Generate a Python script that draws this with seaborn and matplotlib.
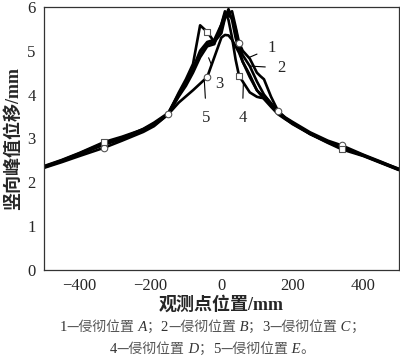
import numpy as np
import pandas as pd
import seaborn as sns
import matplotlib
matplotlib.use("Agg")
import matplotlib.pyplot as plt
from matplotlib.offsetbox import TextArea, HPacker, AnchoredOffsetbox

# observation points (mm) shared by all five curves
x_pos = [-500, -450, -400, -330, -280, -220, -190, -150, -120, -100, -80, -60, -40, -20, 0, 10, 20,
         30, 40, 50, 60, 80, 100, 110, 120, 140, 160, 180, 200, 250, 300, 340, 400, 450, 500]

# vertical peak displacement (mm)
disp_1 = [2.36, 2.50, 2.66, 2.90, 3.02, 3.20, 3.33, 3.57, 3.98, 4.25, 4.55, 4.95, 5.15, 5.20, 5.50, 5.75, 5.85,
          5.90, 5.55, 5.18, 5.00, 4.82, 4.50, 4.42, 4.35, 3.95, 3.62, 3.48, 3.38, 3.14, 2.95, 2.84, 2.63, 2.47, 2.30]
disp_2 = [2.34, 2.49, 2.65, 2.88, 3.00, 3.22, 3.36, 3.58, 4.02, 4.30, 4.60, 5.00, 5.20, 5.25, 5.60, 5.85, 5.80,
          5.75, 5.50, 5.10, 4.90, 4.65, 4.30, 4.15, 4.00, 3.80, 3.60, 3.47, 3.36, 3.10, 2.92, 2.80, 2.62, 2.45, 2.29]
disp_3 = [2.37, 2.51, 2.67, 2.92, 3.04, 3.21, 3.34, 3.56, 4.05, 4.35, 4.70, 5.58, 5.43, 5.20, 5.40, 5.75, 5.95,
          5.70, 5.30, 5.00, 4.75, 4.45, 4.10, 4.02, 3.98, 3.80, 3.58, 3.46, 3.35, 3.12, 2.93, 2.79, 2.61, 2.46, 2.31]
disp_4 = [2.35, 2.48, 2.64, 2.86, 2.99, 3.19, 3.30, 3.55, 3.96, 4.20, 4.50, 4.85, 5.10, 5.15, 5.60, 5.90, 5.70,
          5.30, 4.80, 4.42, 4.30, 4.05, 3.95, 3.93, 3.92, 3.75, 3.58, 3.45, 3.33, 3.10, 2.90, 2.75, 2.60, 2.44, 2.28]
disp_5 = [2.33, 2.46, 2.60, 2.79, 2.95, 3.15, 3.28, 3.55, 3.82, 3.96, 4.10, 4.25, 4.40, 4.85, 5.30, 5.36, 5.35,
          5.25, 5.10, 4.95, 4.75, 4.40, 4.10, 4.00, 3.90, 3.72, 3.55, 3.44, 3.34, 3.11, 2.91, 2.78, 2.61, 2.45, 2.29]

curves = ["1", "2", "3", "4", "5"]
all_disp = [disp_1, disp_2, disp_3, disp_4, disp_5]

# which points of each curve carry a marker, and its shape
circle_pts = {"1": [50, 160, 340], "5": [-40, -150, -330]}
square_pts = {"3": [-40, -330], "4": [50, 340]}

# leader-line labels: curve -> (point on curve, label position)
label_at = {"1": ((76, 4.84), (143, 5.07)),
            "2": ((81, 4.65), (168, 4.61)),
            "3": ((-36, 4.84), (-6, 4.24)),
            "4": ((62, 4.30), (59, 3.47)),
            "5": ((-48, 4.30), (-42, 3.47))}

caption_1 = [("1", "n"), ("—侵彻位置", "c"), (" A", "i"), ("；", "c"),
             ("2", "n"), ("—侵彻位置", "c"), (" B", "i"), ("；", "c"),
             ("3", "n"), ("—侵彻位置", "c"), (" C", "i"), ("；", "c")]
caption_2 = [("4", "n"), ("—侵彻位置", "c"), (" D", "i"), ("；", "c"),
             ("5", "n"), ("—侵彻位置", "c"), (" E", "i"), ("。", "c")]


def main():
    sns.set_style("white")
    plt.rcParams["font.family"] = ["Liberation Serif", "Noto Sans CJK SC"]

    df = pd.concat([pd.DataFrame({"x": x_pos, "y": d, "curve": c})
                    for c, d in zip(curves, all_disp)], ignore_index=True)

    fig, ax = plt.subplots(figsize=(4.0, 3.62), dpi=100)
    fig.subplots_adjust(left=0.11, right=0.997, top=0.981, bottom=0.254)

    sns.lineplot(data=df, x="x", y="y", hue="curve", palette=["black"] * 5,
                 sort=False, linewidth=1.9, legend=False, ax=ax)

    for pts, mk in ((circle_pts, "o"), (square_pts, "s")):
        for c, xs in pts.items():
            sub = df[(df["curve"] == c) & (df["x"].isin(xs))]
            ax.scatter(sub["x"], sub["y"], marker=mk, s=22, facecolor="white",
                       edgecolor="#555555", linewidth=0.8, zorder=5)

    for c, (xy, xt) in label_at.items():
        ax.annotate(c, xy=xy, xytext=xt, ha="center", va="center", fontsize=12,
                    arrowprops=dict(arrowstyle="-", lw=0.8, color="black",
                                    shrinkA=6, shrinkB=0))

    ax.set_xlim(-500, 500)
    ax.set_ylim(0, 6)
    ax.set_xticks([-400, -200, 0, 200, 400])
    ax.set_yticks(range(0, 7))
    ax.set_xticklabels(["\u2212400", "\u2212200", "0", "200", "400"])
    ax.tick_params(axis="x", direction="in", length=4, width=0.8, labelsize=12, pad=6)
    ax.tick_params(axis="y", direction="out", length=4, width=0.8, labelsize=12, pad=2)
    for s in ax.spines.values():
        s.set_linewidth(0.9)
        s.set_color("#333333")

    ax.set_xlabel("观测点位置/mm", fontsize=13, fontweight="bold", labelpad=1)
    ax.set_ylabel("竖向峰值位移/mm", fontsize=13, fontweight="bold", labelpad=4)

    fonts = {"n": dict(family="Liberation Serif", size=10.5, color="#333333"),
             "i": dict(family="Liberation Serif", size=10.5, style="italic", color="#333333"),
             "c": dict(family="Noto Sans CJK SC", size=10, color="#555555")}
    for row, ypos in ((caption_1, 0.098), (caption_2, 0.035)):
        box = HPacker(children=[TextArea(t, textprops=fonts[k]) for t, k in row],
                      align="baseline", pad=0, sep=0)
        anc = AnchoredOffsetbox(loc="center", child=box, frameon=False, pad=0,
                                bbox_to_anchor=(0.53, ypos), bbox_transform=fig.transFigure)
        fig.add_artist(anc)

    plt.savefig("out.png", dpi=100)
    plt.close()


if __name__ == "__main__":
    main()
